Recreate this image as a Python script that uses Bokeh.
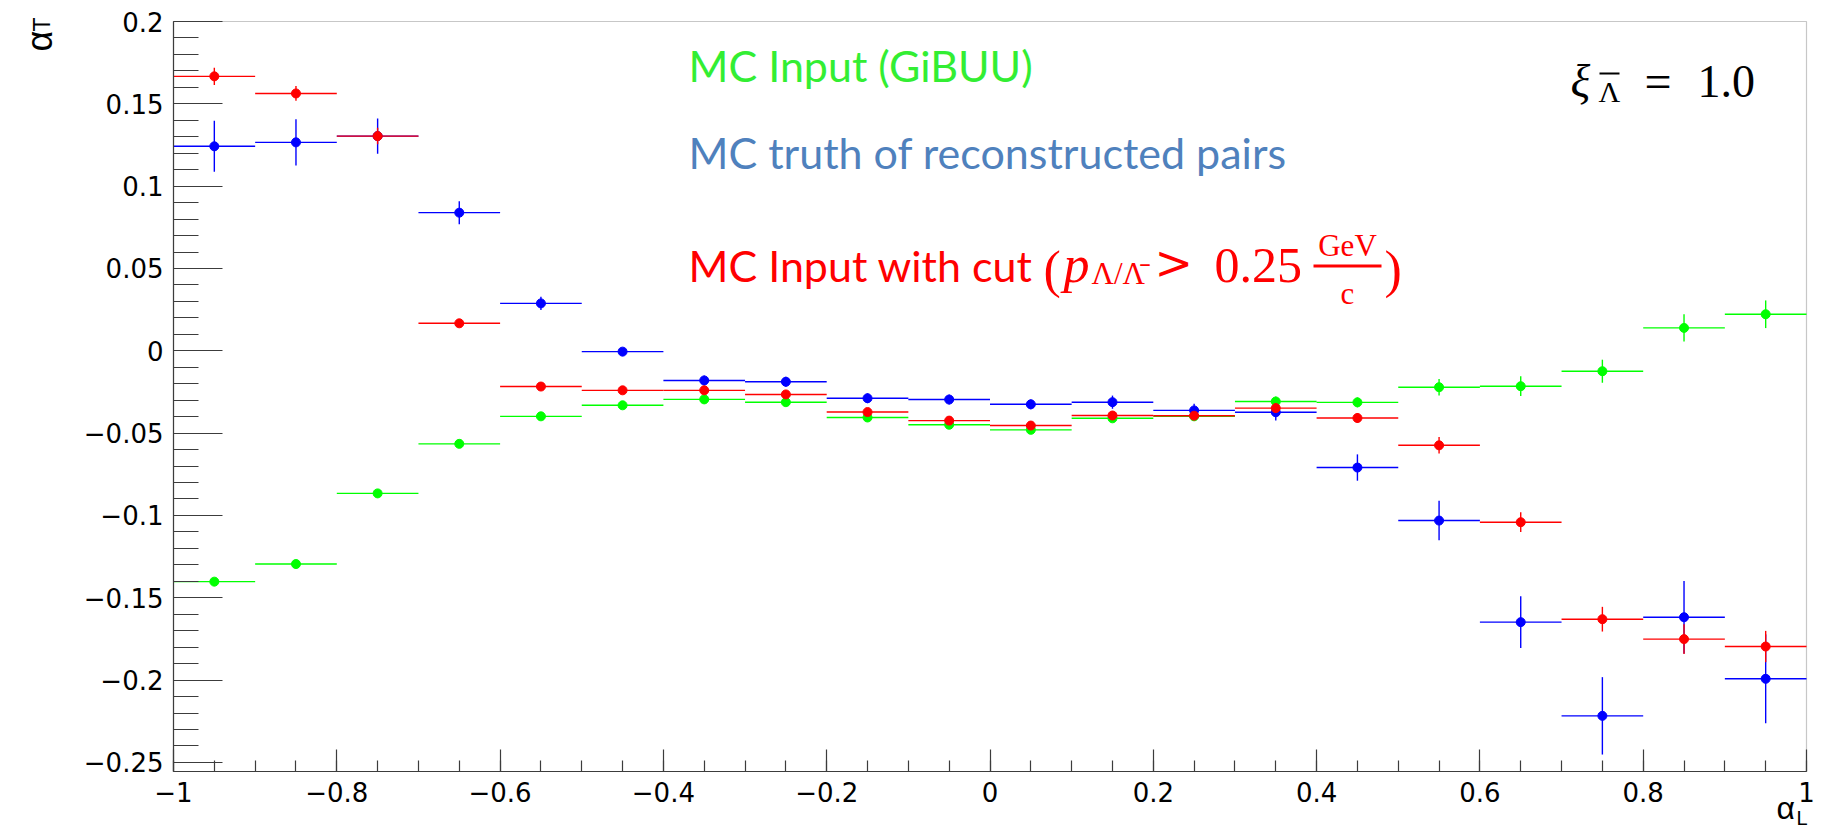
import numpy as np
from bokeh.plotting import figure
from bokeh.models import FixedTicker, Label, ColumnDataSource, BoxAnnotation
from bokeh.embed import file_html
from bokeh.resources import INLINE

# ---------------- data ----------------
bin_centers = [-0.95, -0.85, -0.75, -0.65, -0.55, -0.45, -0.35, -0.25, -0.15, -0.05,
               0.05, 0.15, 0.25, 0.35, 0.45, 0.55, 0.65, 0.75, 0.85, 0.95]
bin_half_width = 0.05

gibuu_y = [-0.1402, -0.1295, -0.0866, -0.0565, -0.0398, -0.0331, -0.0295, -0.0312, -0.0405, -0.0449,
           -0.0480, -0.0410, -0.0398, -0.0308, -0.0313, -0.0221, -0.0215, -0.0124, 0.0139, 0.0222]
gibuu_err = [0.0012, 0.0012, 0.0012, 0.0012, 0.0012, 0.0012, 0.0012, 0.0012, 0.0012, 0.0012,
             0.0015, 0.0015, 0.0015, 0.0030, 0.0030, 0.0050, 0.0060, 0.0070, 0.0083, 0.0084]

truth_y = [0.1242, 0.1266, 0.1304, 0.0839, 0.0288, -0.0005, -0.0180, -0.0188, -0.0288, -0.0296,
           -0.0325, -0.0312, -0.0362, -0.0373, -0.0709, -0.1031, -0.1648, -0.2217, -0.1618, -0.1992]
truth_err = [0.0155, 0.0140, 0.0107, 0.0070, 0.0040, 0.0020, 0.0030, 0.0030, 0.0030, 0.0030,
             0.0030, 0.0040, 0.0040, 0.0050, 0.0080, 0.0120, 0.0157, 0.0235, 0.0220, 0.0270]

cut_y = [0.1667, 0.1563, 0.1304, 0.0167, -0.0217, -0.0240, -0.0240, -0.0265, -0.0372, -0.0424,
         -0.0454, -0.0393, -0.0394, -0.0348, -0.0408, -0.0574, -0.1041, -0.1630, -0.1751, -0.1796]
cut_err = [0.0052, 0.0045, 0.0050, 0.0020, 0.0020, 0.0020, 0.0020, 0.0020, 0.0020, 0.0020,
           0.0020, 0.0020, 0.0020, 0.0030, 0.0030, 0.0050, 0.0060, 0.0075, 0.0090, 0.0095]

x_ticks = [-1, -0.8, -0.6, -0.4, -0.2, 0, 0.2, 0.4, 0.6, 0.8, 1]
x_tick_labels = ["\u22121", "\u22120.8", "\u22120.6", "\u22120.4", "\u22120.2", "0", "0.2", "0.4", "0.6", "0.8", "1"]
y_ticks = [-0.25, -0.2, -0.15, -0.1, -0.05, 0, 0.05, 0.1, 0.15, 0.2]
y_tick_labels = ["\u22120.25", "\u22120.2", "\u22120.15", "\u22120.1", "\u22120.05", "0", "0.05", "0.1", "0.15", "0.2"]

x_label = "\u03b1"
x_label_sub = "L"
y_label = "\u03b1"
y_label_sub = "T"
legend_gibuu = "MC Input (GiBUU)"
legend_truth = "MC truth of reconstructed pairs"
legend_cut = "MC Input with cut"

# ---------------- layout ----------------
# The data area (-1..1, YMIN..YMAX) occupies canvas pixels FL..FR, FT..FB.
# The plot frame fills the whole canvas, the axes are pinned to the data-area edges.
W, H = 1823, 837
FL, FR, FT, FB = 173, 1806, 21, 771
XMIN, XMAX = -1.0, 1.0
YMIN, YMAX = -0.2555, 0.2
KX = (XMAX - XMIN) / (FR - FL)
KY = (YMAX - YMIN) / (FB - FT)
XS, XE = XMIN - FL * KX, XMAX + (W - FR) * KX
YS, YE = YMIN - (H - FB) * KY, YMAX + FT * KY


def X(px):
    return XS + px * KX


def Y(py):
    return YE - py * KY


p = figure(width=W, height=H, x_range=(XS, XE), y_range=(YS, YE),
           output_backend="svg", toolbar_location=None, min_border=0)
p.background_fill_color = "white"
p.border_fill_color = "white"
p.grid.visible = False
p.outline_line_color = None

AX = "#3c3c3c"
TICK_FONT = "DejaVu Sans"
TITLE_FONT = "Liberation Sans"
for ax in p.xaxis:
    ax.fixed_location = YMIN
    ax.bounds = (XMIN, XMAX)
    ax.ticker = FixedTicker(ticks=x_ticks, minor_ticks=list(np.round(np.arange(-1, 1.0001, 0.05), 3)))
    ax.major_label_overrides = {t: l for t, l in zip(x_ticks, x_tick_labels)}
    ax.major_tick_in = 22
    ax.major_tick_out = 0
    ax.minor_tick_in = 11
    ax.minor_tick_out = 0
    ax.axis_line_color = AX
    ax.major_tick_line_color = AX
    ax.minor_tick_line_color = AX
    ax.axis_line_width = 1.2
    ax.major_tick_line_width = 1.2
    ax.minor_tick_line_width = 1.2
    ax.major_label_text_font = TICK_FONT
    ax.major_label_text_font_size = "26px"
    ax.major_label_text_color = "black"
    ax.major_label_standoff = 10

for ax in p.yaxis:
    ax.fixed_location = XMIN
    ax.bounds = (YMIN, YMAX)
    ax.ticker = FixedTicker(ticks=y_ticks, minor_ticks=list(np.round(np.arange(-0.25, 0.2001, 0.01), 3)))
    ax.major_label_overrides = {t: l for t, l in zip(y_ticks, y_tick_labels)}
    ax.major_tick_in = 49
    ax.major_tick_out = 0
    ax.minor_tick_in = 25
    ax.minor_tick_out = 0
    ax.axis_line_color = AX
    ax.major_tick_line_color = AX
    ax.minor_tick_line_color = AX
    ax.axis_line_width = 1.2
    ax.major_tick_line_width = 1.2
    ax.minor_tick_line_width = 1.2
    ax.major_label_text_font = TICK_FONT
    ax.major_label_text_font_size = "26px"
    ax.major_label_text_color = "black"
    ax.major_label_standoff = 10

# frame box around the data area
p.add_layout(BoxAnnotation(left=XMIN, right=XMAX, bottom=YMIN, top=YMAX, fill_alpha=0,
                           line_color="#444444", line_width=1.2, level="underlay"))

# ---------------- series ----------------
def draw(yv, err, color):
    xs = np.array(bin_centers)
    ys = np.array(yv)
    es = np.array(err)
    src = ColumnDataSource(dict(x=xs, y=ys, x0=xs - bin_half_width, x1=xs + bin_half_width,
                                ylo=ys - es, yhi=ys + es))
    p.segment(x0="x0", y0="y", x1="x1", y1="y", source=src, line_color=color, line_width=1.4)
    p.segment(x0="x", y0="ylo", x1="x", y1="yhi", source=src, line_color=color, line_width=1.4)
    p.scatter(x="x", y="y", source=src, marker="circle", size=9, fill_color=color, line_color=color)


draw(gibuu_y, gibuu_err, "#00ff00")
draw(truth_y, truth_err, "#0000ff")
draw(cut_y, cut_err, "#ff0000")

# ---------------- texts ----------------
def lab(px, py, text, font, size, color, style="normal", angle=0.0, align="left"):
    p.add_layout(Label(x=X(px), y=Y(py), text=text, text_font=font, text_font_size=f"{size}px",
                       text_color=color, text_font_style=style, angle=angle,
                       text_align=align, text_baseline="alphabetic"))


LEG = "Lato"
SERIF = "Liberation Serif"
GREEN_T = "#33ee33"
BLUE_T = "#4f81bd"
RED_T = "#ff0000"

lab(688, 65, legend_gibuu, LEG, 43, GREEN_T)
lab(688, 152, legend_truth, LEG, 43, BLUE_T)
lab(688, 265, legend_cut, LEG, 43, RED_T)
# math part of the cut legend
lab(1043, 269, "(", SERIF, 52, RED_T)
lab(1063, 264, "p", SERIF, 52, RED_T, style="italic")
lab(1091, 273, "\u039b/\u039b\u0304", SERIF, 31, RED_T)
lab(1154, 262, ">", "DejaVu Serif", 46, RED_T)
lab(1214, 265, "0.25", SERIF, 50, RED_T)
lab(1347, 245, "GeV", SERIF, 31, RED_T, align="center")
lab(1347, 293, "c", SERIF, 31, RED_T, align="center")
p.add_layout(BoxAnnotation(left=X(1313), right=X(1381), top=Y(264), bottom=Y(267),
                           fill_color=RED_T, fill_alpha=1.0, line_alpha=0))
lab(1384, 269, ")", SERIF, 52, RED_T)

# xi label
lab(1570, 81, "\u03be", SERIF, 46, "black", style="italic")
lab(1598, 91, "\u039b", SERIF, 30, "black")
p.add_layout(BoxAnnotation(left=X(1599), right=X(1619), top=Y(72), bottom=Y(74),
                           fill_color="black", fill_alpha=1.0, line_alpha=0))
lab(1644, 81, "=", SERIF, 48, "black")
lab(1697, 81, "1.0", SERIF, 46, "black")

# axis titles
lab(1776, 807, x_label, TITLE_FONT, 32, "black")
lab(1796, 817, x_label_sub, TITLE_FONT, 20, "black")
lab(39, 51, y_label, TITLE_FONT, 36, "black", angle=np.pi / 2)
lab(41, 31, y_label_sub, TITLE_FONT, 23, "black", angle=np.pi / 2)

open("out.html", "w").write(file_html(p, INLINE))
